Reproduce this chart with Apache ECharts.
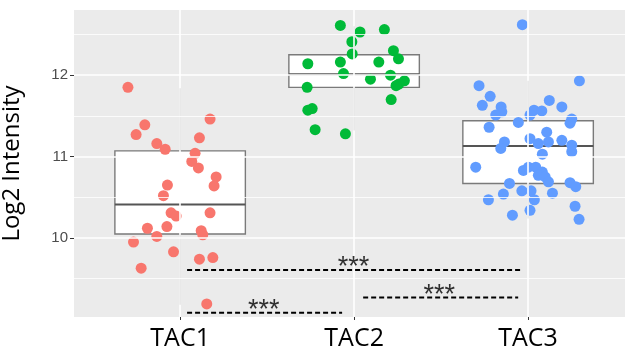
<!DOCTYPE html>
<html>
<head>
<meta charset="utf-8">
<script src="https://cdn.jsdelivr.net/npm/echarts@6/dist/echarts.min.js"></script>
<style>
  html, body { margin: 0; padding: 0; background: #fff; }
  #chart { width: 625px; height: 355px; }
</style>
</head>
<body>
<div id="chart"></div>
<script>
// groups on the x axis (1, 2, 3)
const categories = ['TAC1', 'TAC2', 'TAC3'];
const groupColors = ['#F8766D', '#00BA38', '#619CFF'];

// y axis ticks (major) and the minor grid lines between them
const yTicks = [10, 11, 12];
const yMinor = [9.5, 10.5, 11.5, 12.5];

// box stats per group: [lower whisker, Q1, median, Q3, upper whisker]
const boxStats = [
  [9.18, 10.05, 10.41, 11.07, 11.84],
  [11.32, 11.85, 12.01, 12.25, 12.60],
  [10.24, 10.67, 11.13, 11.44, 11.93]
];

// jittered points [x, log2 intensity]
const tac1Points = [
  [0.700, 11.85], [1.172, 11.46], [0.797, 11.39], [0.747, 11.27], [1.111, 11.23],
  [0.866, 11.16], [0.914, 11.09], [1.086, 11.04], [1.067, 10.94], [1.105, 10.86],
  [1.207, 10.75], [1.195, 10.64], [0.927, 10.65], [0.904, 10.52], [0.948, 10.31],
  [0.977, 10.27], [1.172, 10.31], [0.812, 10.12], [0.924, 10.14], [1.121, 10.09],
  [1.130, 10.04], [0.866, 10.02], [0.732, 9.95], [0.962, 9.83], [1.111, 9.74],
  [1.188, 9.76], [0.776, 9.63], [1.153, 9.19]
];
const tac2Points = [
  [1.921, 12.61], [2.174, 12.56], [2.034, 12.53], [1.987, 12.41], [1.989, 12.26],
  [2.226, 12.30], [2.255, 12.20], [1.734, 12.14], [1.921, 12.16], [2.142, 12.16],
  [1.939, 12.02], [2.209, 12.00], [2.094, 11.95], [2.289, 11.93], [2.257, 11.89],
  [2.241, 11.87], [1.730, 11.85], [2.213, 11.70], [1.759, 11.59], [1.734, 11.57],
  [1.776, 11.33], [1.950, 11.28]
];
const tac3Points = [
  [2.967, 12.62], [3.295, 11.93], [2.718, 11.87], [2.782, 11.74], [2.737, 11.63],
  [3.122, 11.69], [3.194, 11.61], [2.845, 11.61], [2.849, 11.55], [2.814, 11.51],
  [3.034, 11.57], [3.079, 11.56], [3.011, 11.51], [3.251, 11.46], [2.944, 11.42],
  [3.241, 11.41], [2.776, 11.36], [3.011, 11.22], [3.107, 11.30], [2.864, 11.18],
  [2.843, 11.10], [3.059, 11.16], [3.117, 11.18], [3.194, 11.20], [3.251, 11.14],
  [3.251, 11.06], [3.082, 11.03], [2.699, 10.87], [2.973, 10.83], [3.002, 10.87],
  [3.044, 10.87], [3.082, 10.81], [3.059, 10.77], [3.098, 10.75], [3.117, 10.69],
  [2.893, 10.67], [3.241, 10.68], [3.274, 10.63], [2.964, 10.58], [3.017, 10.58],
  [2.858, 10.54], [3.140, 10.55], [3.036, 10.47], [2.772, 10.47], [3.270, 10.39],
  [3.011, 10.34], [2.910, 10.28], [3.293, 10.23]
];

// significance brackets
const bracketFrom = [1.040, 1.040, 2.052];
const bracketTo = [2.954, 1.931, 2.943];
const bracketY = [9.607, 9.083, 9.268];
const bracketLabelX = [1.997, 1.480, 2.489];
const bracketText = ['***', '***', '***'];

const chart = echarts.init(document.getElementById('chart'));

// 网格线 (ggplot 风格)
const gridLines = [];
yTicks.forEach(v => gridLines.push({ yAxis: v, lineStyle: { width: 1.6 } }));
yMinor.forEach(v => gridLines.push({ yAxis: v, lineStyle: { width: 0.8 } }));
[1, 2, 3].forEach(v => gridLines.push({ xAxis: v, lineStyle: { width: 1.6 } }));

const boxData = boxStats.map((s, i) => [i + 1].concat(s));

const pointSets = [tac1Points, tac2Points, tac3Points];
const pointSeries = pointSets.map((pts, i) => ({
  name: categories[i],
  type: 'scatter',
  data: pts,
  symbolSize: 11,
  itemStyle: { color: groupColors[i], opacity: 1 },
  z: 3,
  silent: true
}));

const bracketSeries = [];
bracketFrom.forEach((x0, i) => {
  bracketSeries.push({
    type: 'line',
    data: [[x0, bracketY[i]], [bracketTo[i], bracketY[i]]],
    symbol: 'none',
    lineStyle: { color: '#000', width: 2, type: [5, 3] },
    z: 4,
    silent: true
  });
});
bracketSeries.push({
  type: 'scatter',
  data: bracketLabelX.map((x, i) => [x, bracketY[i], bracketText[i]]),
  symbolSize: 0,
  label: {
    show: true,
    position: 'inside',
    offset: [0, -2],
    formatter: p => p.data[2],
    color: '#000',
    fontSize: 27,
    fontFamily: 'Liberation Sans'
  },
  z: 5,
  silent: true
});

const option = {
  animation: false,
  grid: {
    left: 74, top: 10, right: 0, bottom: 38,
    outerBoundsMode: 'none',
    containLabel: false,
    show: true, backgroundColor: '#EBEBEB', borderWidth: 0
  },
  xAxis: {
    type: 'value',
    min: 0.39,
    max: 3.557,
    axisLine: { show: false },
    splitLine: { show: false },
    axisTick: { show: true, customValues: [1, 2, 3], length: 3, lineStyle: { color: '#333' } },
    axisLabel: {
      customValues: [1, 2, 3],
      formatter: v => categories[Math.round(v) - 1],
      color: '#000',
      fontSize: 25,
      fontFamily: 'Open Sans',
      margin: 9
    }
  },
  yAxis: {
    type: 'value',
    min: 9.03,
    max: 12.8,
    name: 'Log2 Intensity',
    nameLocation: 'middle',
    nameRotate: 90,
    nameGap: 50,
    nameTextStyle: { color: '#000', fontSize: 24, fontFamily: 'Open Sans' },
    axisLine: { show: false },
    splitLine: { show: false },
    axisTick: { show: true, customValues: yTicks, length: 4, lineStyle: { color: '#333' } },
    axisLabel: {
      customValues: yTicks,
      color: '#4D4D4D',
      fontSize: 15,
      fontFamily: 'Liberation Sans',
      margin: 6
    }
  },
  series: [
    {
      type: 'line',
      data: [],
      z: 1,
      silent: true,
      markLine: {
        silent: true,
        symbol: ['none', 'none'],
        label: { show: false },
        lineStyle: { color: '#FFFFFF', type: 'solid' },
        data: gridLines
      }
    },
    {
      type: 'custom',
      data: boxData,
      z: 2,
      silent: true,
      encode: { x: 0, y: [1, 2, 3, 4, 5] },
      renderItem: (params, api) => {
        const x = api.value(0);
        const half = 0.375;
        const lo = api.coord([x, api.value(1)]);
        const q1 = api.coord([x, api.value(2)]);
        const med = api.coord([x, api.value(3)]);
        const q3 = api.coord([x, api.value(4)]);
        const hi = api.coord([x, api.value(5)]);
        const left = api.coord([x - half, api.value(3)])[0];
        const right = api.coord([x + half, api.value(3)])[0];
        const stroke = { stroke: '#7A7A7A', lineWidth: 1.4, fill: null };
        return {
          type: 'group',
          children: [
            { type: 'line', shape: { x1: lo[0], y1: lo[1], x2: q1[0], y2: q1[1] }, style: stroke },
            { type: 'line', shape: { x1: q3[0], y1: q3[1], x2: hi[0], y2: hi[1] }, style: stroke },
            { type: 'rect', shape: { x: left, y: q3[1], width: right - left, height: q1[1] - q3[1] },
              style: { fill: '#FFFFFF', stroke: '#7A7A7A', lineWidth: 1.4 } },
            { type: 'line', shape: { x1: left, y1: med[1], x2: right, y2: med[1] },
              style: { stroke: '#555555', lineWidth: 2 } }
          ]
        };
      }
    }
  ].concat(pointSeries, bracketSeries)
};

chart.setOption(option);
</script>
</body>
</html>
